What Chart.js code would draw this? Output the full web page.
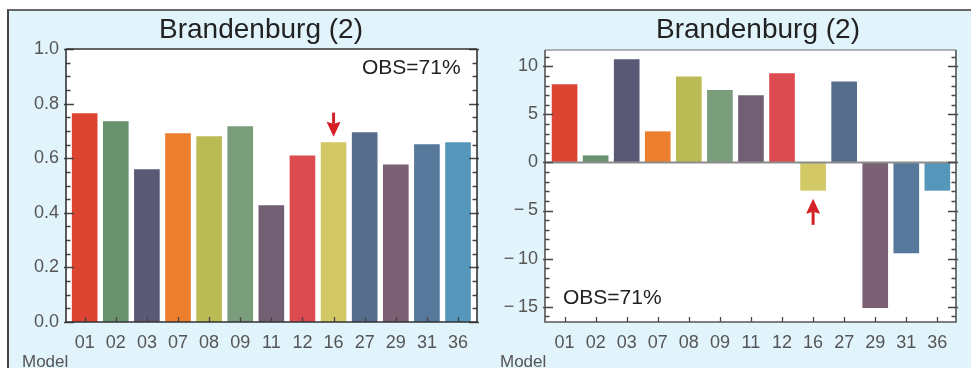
<!DOCTYPE html>
<html>
<head>
<meta charset="utf-8">
<script src="https://cdn.jsdelivr.net/npm/chart.js@4"></script>
<style>
  body { margin: 0; background: #fff; width: 971px; height: 368px; overflow: hidden; position: relative; }
  #panel { position: absolute; left: 7px; top: 9px; width: 964px; height: 359px; background: #e1f3fb;
           border-top: 2px solid #666; border-left: 2px solid #444; box-sizing: border-box; }
  canvas { position: absolute; top: 10px; }
  #left { left: 8px; }
  #right { left: 486px; }
</style>
</head>
<body>
<div id="panel"></div>
<canvas id="left" width="478" height="358"></canvas>
<canvas id="right" width="485" height="358"></canvas>
<script>
const models = ['01', '02', '03', '07', '08', '09', '11', '12', '16', '27', '29', '31', '36'];
const colors = ['#dd4532', '#68936d', '#5a5a76', '#ec7f2e', '#bbbb55', '#7a9d7c', '#725f74',
                '#db4b50', '#d2c866', '#576d8c', '#7a6072', '#56799b', '#5596bb'];
const leftValues = [0.763, 0.734, 0.558, 0.690, 0.679, 0.716, 0.426, 0.609, 0.657, 0.694, 0.576, 0.650, 0.657];
const rightValues = [8.1, 0.7, 10.7, 3.2, 8.9, 7.5, 6.95, 9.24, -2.9, 8.4, -15.1, -9.4, -2.9];
const leftTicks = [0, 0.2, 0.4, 0.6, 0.8, 1.0];
const rightTicks = [-15, -10, -5, 0, 5, 10];
const titleText = 'Brandenburg (2)';
const obsText = 'OBS=71%';
const markedModel = '16';

const tickFont = { family: 'Liberation Sans', size: 18 };

// ticks, frame, title, arrow and notes drawn on top of the chart
function decorPlugin(cfg) {
  return {
    id: 'decor',
    beforeDraw(chart) {
      const c = chart.ctx, a = chart.chartArea;
      c.save();
      c.fillStyle = '#fff';
      c.fillRect(a.left, a.top, a.right - a.left, a.bottom - a.top);
      c.restore();
    },
    afterDatasetsDraw(chart) {
      const c = chart.ctx, a = chart.chartArea;
      const xs = chart.scales.x, ys = chart.scales.y;
      c.save();
      if (cfg.zeroLine) {
        c.strokeStyle = '#8c8c8c';
        c.lineWidth = 2;
        const y0 = ys.getPixelForValue(0);
        c.beginPath(); c.moveTo(a.left, y0); c.lineTo(a.right, y0); c.stroke();
      }
      // y ticks on both sides
      c.lineWidth = 1.3;
      c.strokeStyle = '#444';
      for (let i = 0; ; i++) {
        const v = cfg.minorStart + i * cfg.minorStep;
        if (v > cfg.minorEnd + 1e-9) break;
        const y = Math.round(ys.getPixelForValue(v)) + 0.5;
        const major = Math.abs(v / cfg.majorStep - Math.round(v / cfg.majorStep)) < 1e-6;
        const len = major ? 8 : 4.5;
        c.beginPath();
        c.moveTo(a.left - (major ? 2 : 0), y); c.lineTo(a.left + len, y);
        c.moveTo(a.right + (major ? 2 : 0), y); c.lineTo(a.right - len, y);
        c.stroke();
      }
      // x ticks
      models.forEach((m, i) => {
        const x = Math.round(xs.getPixelForValue(i)) + 0.5;
        c.beginPath(); c.moveTo(x, a.bottom); c.lineTo(x, a.bottom - 5); c.stroke();
      });
      // frame
      c.lineWidth = 1.6;
      c.strokeStyle = cfg.topColor;
      c.beginPath(); c.moveTo(a.left, a.top); c.lineTo(a.right, a.top); c.stroke();
      c.strokeStyle = cfg.frameColor;
      c.beginPath();
      c.moveTo(a.right, a.top); c.lineTo(a.right, a.bottom);
      c.lineTo(a.left, a.bottom); c.lineTo(a.left, a.top);
      c.stroke();
      // arrow at marked model
      const idx = models.indexOf(markedModel);
      const val = cfg.values[idx];
      const ax = xs.getPixelForValue(idx);
      const barEnd = ys.getPixelForValue(val);
      const dir = val >= 0 ? 1 : -1; // 1: arrow above pointing down
      const tip = barEnd - dir * cfg.arrowGap;
      const tail = tip - dir * cfg.arrowLen;
      const head = tip - dir * 15;
      c.fillStyle = '#d42027';
      c.strokeStyle = '#d42027';
      c.lineWidth = 3;
      c.beginPath(); c.moveTo(ax, tail); c.lineTo(ax, head + dir * 2); c.stroke();
      c.beginPath();
      c.moveTo(ax, tip); c.lineTo(ax - 7, head); c.lineTo(ax, head + dir * 2); c.lineTo(ax + 7, head);
      c.closePath(); c.fill();
      // title
      c.fillStyle = '#222';
      c.textAlign = 'center';
      c.textBaseline = 'middle';
      c.font = '28px "Liberation Sans"';
      c.fillText(titleText, cfg.titleX, 20);
      // OBS note
      c.font = '21px "Liberation Sans"';
      c.textAlign = 'left';
      c.fillText(obsText, cfg.obsX, cfg.obsY);
      // axis name
      c.fillStyle = '#555';
      c.font = '17px "Liberation Sans"';
      c.fillText('Model', 14, 352);
      c.restore();
    }
  };
}

function makeChart(id, values, ticks, opts) {
  return new Chart(document.getElementById(id), {
    type: 'bar',
    data: {
      datasets: [{
        data: values.map((v, i) => ({ x: i, y: v })),
        backgroundColor: colors,
        barThickness: 25,
        borderWidth: 0
      }]
    },
    options: {
      responsive: false,
      animation: false,
      devicePixelRatio: 1,
      layout: { padding: { top: opts.padTop, right: opts.padRight, left: 0, bottom: 0 } },
      plugins: { legend: { display: false }, tooltip: { enabled: false } },
      scales: {
        x: {
          type: 'linear',
          offset: false,
          min: opts.xMin, max: opts.xMax,
          grid: { display: false, drawTicks: false, offset: false },
          border: { display: false },
          afterBuildTicks: s => { s.ticks = models.map((m, i) => ({ value: i })); },
          afterFit: s => { s.height = 46; },
          ticks: {
            padding: 10,
            autoSkip: false,
            maxRotation: 0,
            color: '#555',
            font: tickFont,
            callback: v => models[v]
          }
        },
        y: {
          min: opts.yMin, max: opts.yMax,
          grid: { display: false, drawTicks: false },
          border: { display: false },
          afterBuildTicks: s => { s.ticks = ticks.map(v => ({ value: v })); },
          afterFit: s => { s.width = opts.yWidth; },
          ticks: {
            padding: 7,
            color: '#555',
            font: tickFont,
            callback: opts.fmt
          }
        }
      }
    },
    plugins: [decorPlugin(Object.assign({ values: values }, opts))]
  });
}

makeChart('left', leftValues, leftTicks, {
  padTop: 39, padRight: 9, yWidth: 58,
  xMin: -0.6, xMax: 12.61, yMin: 0, yMax: 1.0,
  fmt: v => v.toFixed(1),
  minorStart: 0, minorEnd: 1.0, minorStep: 0.05, majorStep: 0.2,
  zeroLine: false, frameColor: '#333', topColor: '#333',
  arrowGap: 6, arrowLen: 24,
  titleX: 253, obsX: 354, obsY: 58
});

makeChart('right', rightValues, rightTicks, {
  padTop: 40, padRight: 15, yWidth: 59,
  xMin: -0.63, xMax: 12.6, yMin: -16.6, yMax: 11.7,
  fmt: v => v < 0 ? '\u2212\u2009' + Math.abs(v) : String(v),
  minorStart: -16, minorEnd: 11, minorStep: 1, majorStep: 5,
  zeroLine: true, frameColor: '#555', topColor: '#999',
  arrowGap: 8.5, arrowLen: 26,
  titleX: 272, obsX: 77, obsY: 288
});
</script>
</body>
</html>
